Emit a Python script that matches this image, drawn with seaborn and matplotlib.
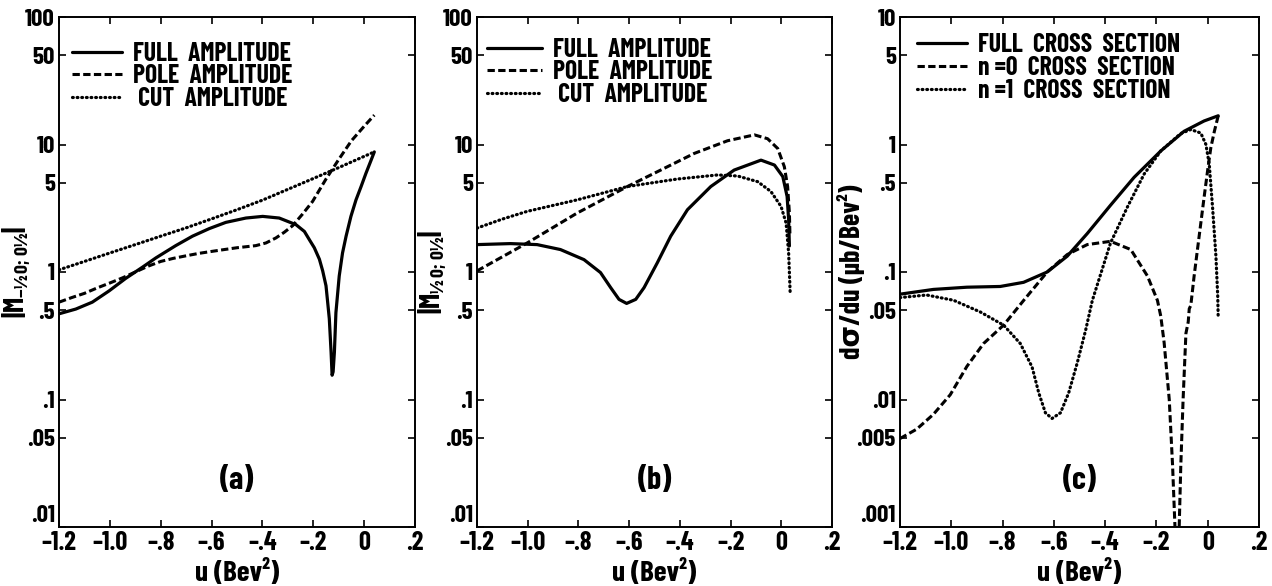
import numpy as np
import pandas as pd
import matplotlib
matplotlib.use("Agg")
import matplotlib.pyplot as plt
import seaborn as sns
from matplotlib import font_manager as fm
from matplotlib.ticker import FixedLocator, FixedFormatter, NullLocator

# ---------------- data ----------------
# panel (a)
a_full_u = [-1.2, -1.134, -1.069, -1.003, -0.938, -0.872, -0.819, -0.741, -0.675, -0.609,
            -0.544, -0.465, -0.399, -0.334, -0.268, -0.235, -0.216, -0.196, -0.176, -0.163,
            -0.150, -0.144, -0.137, -0.130, -0.126, -0.122, -0.117, -0.111, -0.098, -0.085,
            -0.071, -0.052, -0.032, -0.012, 0.007, 0.027, 0.040]
a_full_v = [0.47, 0.512, 0.58, 0.711, 0.89, 1.09, 1.29, 1.61, 1.91, 2.19,
            2.45, 2.65, 2.73, 2.65, 2.35, 2.08, 1.80, 1.55, 1.26, 1.02,
            0.78, 0.594, 0.43, 0.235, 0.155, 0.165, 0.235, 0.48, 0.93, 1.41,
            1.91, 2.73, 3.68, 4.68, 5.94, 7.5, 8.75]
a_pole_u = [-1.2, -1.15, -1.1, -1.05, -1.0, -0.95, -0.9, -0.85, -0.8, -0.75, -0.7, -0.65,
            -0.6, -0.55, -0.5, -0.45, -0.426, -0.386, -0.347, -0.314, -0.281, -0.242,
            -0.203, -0.15, -0.1, -0.05, 0.0, 0.04]
a_pole_v = [0.58, 0.63, 0.68, 0.75, 0.82, 0.90, 1.0, 1.11, 1.21, 1.28, 1.34, 1.40,
            1.45, 1.50, 1.55, 1.59, 1.61, 1.69, 1.85, 2.05, 2.31, 2.85,
            3.57, 5.36, 7.63, 10.7, 13.9, 17.0]
a_cut_u = [-1.2, -1.1, -1.0, -0.9, -0.8, -0.7, -0.6, -0.5, -0.4, -0.3, -0.2, -0.1, 0.0, 0.04]
a_cut_v = [1.04, 1.21, 1.41, 1.64, 1.91, 2.22, 2.61, 3.08, 3.66, 4.45, 5.41, 6.59, 8.07, 8.75]

# panel (b)
b_full_u = [-1.2, -1.068, -0.963, -0.871, -0.778, -0.713, -0.673, -0.64, -0.61, -0.574,
            -0.541, -0.489, -0.436, -0.37, -0.278, -0.186, -0.08, -0.027, 0.006, 0.023,
            0.029, 0.032]
b_full_v = [1.64, 1.67, 1.64, 1.50, 1.25, 0.99, 0.755, 0.61, 0.567, 0.61,
            0.755, 1.18, 1.91, 3.08, 4.68, 6.3, 7.54, 6.9, 5.6, 3.91,
            2.57, 1.6]
b_pole_u = [-1.2, -1.002, -0.805, -0.607, -0.475, -0.344, -0.212, -0.106, -0.054, -0.014,
            0.012, 0.025, 0.032, 0.034]
b_pole_v = [1.02, 1.69, 2.90, 4.68, 6.31, 8.5, 10.7, 11.9, 11.1, 9.3,
            6.7, 4.68, 2.9, 2.0]
b_cut_u = [-1.2, -1.1, -1.002, -0.805, -0.607, -0.41, -0.251, -0.172, -0.093, -0.041,
           -0.001, 0.019, 0.029, 0.035]
b_cut_v = [2.21, 2.6, 2.99, 3.68, 4.68, 5.36, 5.77, 5.66, 5.11, 4.28,
           3.27, 2.42, 1.41, 0.69]

# panel (c)
c_full_u = [-1.2, -1.07, -0.939, -0.809, -0.718, -0.626, -0.548, -0.47, -0.379, -0.287,
            -0.183, -0.092, -0.014, 0.041]
c_full_v = [0.067, 0.073, 0.076, 0.077, 0.083, 0.1, 0.133, 0.20, 0.334, 0.553,
            0.89, 1.27, 1.53, 1.68]
c_n0_u = [-1.2, -1.135, -1.07, -1.004, -0.939, -0.874, -0.796, -0.718, -0.626, -0.548,
          -0.47, -0.379, -0.30, -0.235, -0.196, -0.183, -0.17, -0.15, -0.137, -0.128,
          -0.12, -0.111, -0.105, -0.096, -0.085, -0.076, -0.072, -0.066, -0.053, -0.04,
          -0.027, -0.014, -0.0005, 0.012, 0.026, 0.041]
c_n0_v = [0.00494, 0.00585, 0.00764, 0.0109, 0.0182, 0.0275, 0.0383, 0.0598, 0.1, 0.137,
          0.164, 0.174, 0.150, 0.093, 0.0598, 0.045, 0.028, 0.01, 0.00303, 0.00104,
          0.0004, 0.00104, 0.00303, 0.01, 0.033, 0.0406, 0.0515, 0.0546, 0.093, 0.15,
          0.241, 0.387, 0.622, 0.94, 1.27, 1.68]
c_n1_u = [-1.2, -1.096, -0.991, -0.887, -0.796, -0.731, -0.685, -0.659, -0.633, -0.607,
          -0.574, -0.542, -0.509, -0.476, -0.45, -0.379, -0.313, -0.248, -0.183, -0.105,
          -0.066, -0.027, -0.007, 0.006, 0.019, 0.032, 0.039, 0.041]
c_n1_v = [0.063, 0.066, 0.060, 0.0486, 0.0383, 0.0275, 0.018, 0.0113, 0.00787, 0.0071,
          0.00787, 0.0113, 0.0193, 0.035, 0.0598, 0.169, 0.324, 0.586, 0.89, 1.22,
          1.31, 1.23, 1.0, 0.70, 0.32, 0.133, 0.065, 0.043]

legend_a = ["FULL  AMPLITUDE", "POLE  AMPLITUDE", " CUT  AMPLITUDE"]
legend_c = ["FULL  CROSS  SECTION", "n =0  CROSS  SECTION", "n =1  CROSS  SECTION"]
panel_tags = ["(a)", "(b)", "(c)"]
x_ticks = [-1.2, -1.0, -0.8, -0.6, -0.4, -0.2, 0.0, 0.2]
x_ticklabels = ["\u20131.2", "\u20131.0", "\u2013.8", "\u2013.6", "\u2013.4", "\u2013.2", "0", ".2"]
y_ticks_ab = [0.01, 0.05, 0.1, 0.5, 1, 5, 10, 50, 100]
y_ticklabels_ab = [".01", ".05", ".1", ".5", "1", "5", "10", "50", "100"]
y_ticks_c = [0.001, 0.005, 0.01, 0.05, 0.1, 0.5, 1, 5, 10]
y_ticklabels_c = [".001", ".005", ".01", ".05", ".1", ".5", "1", "5", "10"]
ylabels = [r"$|M_{-½\,0;\,0½}|$", r"$|M_{½\,0;\,0½}|$", "d\u03c3/du (\u03bcb/Bev\u00b2)"]
xlabel = "u (Bev\u00b2)"

# ---------------- style ----------------
sns.set_theme(style="ticks")
names = {f.name for f in fm.fontManager.ttflist}
stretch = "normal"
if "Barlow Condensed" in names:
    fam = "Barlow Condensed"
elif "Archivo Narrow" in names:
    fam = "Archivo Narrow"
else:
    fam = "DejaVu Sans"
    stretch = "condensed"
plt.rcParams["font.family"] = [fam, "DejaVu Sans"]
plt.rcParams["font.weight"] = "bold"
plt.rcParams["font.stretch"] = stretch
for k in ["text.color", "axes.labelcolor", "xtick.color", "ytick.color", "axes.edgecolor"]:
    plt.rcParams[k] = "black"
plt.rcParams["mathtext.fontset"] = "custom"
plt.rcParams["mathtext.rm"] = fam + ":bold"
plt.rcParams["mathtext.it"] = fam + ":bold"
plt.rcParams["mathtext.bf"] = fam + ":bold"
plt.rcParams["mathtext.default"] = "bf"
plt.rcParams["mathtext.fallback"] = "stixsans"

W, H = 1272, 586
fig = plt.figure(figsize=(W / 100, H / 100), dpi=100)
fig.patch.set_facecolor("white")

boxes = [(59, 415), (477, 832), (900, 1259)]
top, bottom = 17, 527
axes = []
for (l, r) in boxes:
    ax = fig.add_axes([l / W, 1 - bottom / H, (r - l) / W, (bottom - top) / H])
    axes.append(ax)

SOLID = dict(lw=2.3, linestyle="-")
DASH = dict(lw=2.2, linestyle=(0, (2.4, 1.1)))
DOT = dict(lw=2.3, linestyle=(0, (0.25, 1.2)))

series = [
    [(a_full_u, a_full_v, SOLID), (a_pole_u, a_pole_v, DASH), (a_cut_u, a_cut_v, DOT)],
    [(b_full_u, b_full_v, SOLID), (b_pole_u, b_pole_v, DASH), (b_cut_u, b_cut_v, DOT)],
    [(c_full_u, c_full_v, SOLID), (c_n0_u, c_n0_v, DASH), (c_n1_u, c_n1_v, DOT)],
]
legends = [legend_a, legend_a, legend_c]
LEG_FS = 18.5
leg_anchor = [(-0.014, 0.987), (-0.0225, 0.995), (-0.003, 1.003)]
leg_hl = [1.95, 2.15, 1.95]
ylab_x = [17, 433, 851]
ylab_fs = [20, 20, 20]

for i, ax in enumerate(axes):
    handles = []
    for (u, v, sty), lab in zip(series[i], legends[i]):
        df = pd.DataFrame({"u": u, "v": v})
        sns.lineplot(data=df, x="u", y="v", ax=ax, sort=False, estimator=None,
                     color="black", label=lab, legend=False)
        ln = ax.lines[-1]
        ln.set_linewidth(sty["lw"])
        ln.set_linestyle(sty["linestyle"])
        ln.set_solid_capstyle("round")
        ln.set_dash_capstyle("butt" if sty is DASH else "round")
        handles.append(ln)
    ax.set_yscale("log")
    ax.set_xlim(-1.2, 0.2)
    if i < 2:
        ax.set_ylim(0.01, 100)
        yt, ytl = y_ticks_ab, y_ticklabels_ab
    else:
        ax.set_ylim(0.001, 10)
        yt, ytl = y_ticks_c, y_ticklabels_c
    ax.yaxis.set_major_locator(FixedLocator(yt))
    ax.yaxis.set_major_formatter(FixedFormatter(ytl))
    ax.yaxis.set_minor_locator(NullLocator())
    ax.xaxis.set_major_locator(FixedLocator(x_ticks))
    ax.xaxis.set_major_formatter(FixedFormatter(x_ticklabels))
    ax.xaxis.set_minor_locator(NullLocator())
    ax.tick_params(axis="both", which="major", direction="in", length=5, width=1.2,
                   top=True, right=True, labelsize=18, pad=3, colors="black")
    ax.tick_params(axis="x", pad=3, labelsize=19)
    for lbl in ax.get_xticklabels() + ax.get_yticklabels():
        lbl.set_fontweight("bold")
    ax.get_yticklabels()[0].set_va("bottom")
    for s in ax.spines.values():
        s.set_visible(True)
        s.set_linewidth(1.4)
        s.set_color("black")
    ax.set_xlabel("")
    ax.set_ylabel("")
    leg = ax.legend(handles=handles, labels=legends[i], loc="upper left", frameon=False,
                    fontsize=LEG_FS, handlelength=leg_hl[i], handletextpad=0.43,
                    labelspacing=-0.05, borderaxespad=0.3, bbox_to_anchor=leg_anchor[i])
    for t in leg.get_texts():
        t.set_fontweight("bold")
        t.set_color("black")
    ax.text(0.5, 0.092, panel_tags[i], transform=ax.transAxes, ha="center", va="center",
            fontsize=23, fontweight="bold")
    ax.text(0.5, -0.09, xlabel, transform=ax.transAxes, ha="center", va="center",
            fontsize=21, fontweight="bold")
    fig.text(ylab_x[i] / W, 1 - 272 / H, ylabels[i], rotation=90, ha="center", va="center",
             fontsize=ylab_fs[i], fontweight="bold")

fig.savefig("out.png", dpi=100, facecolor="white")
